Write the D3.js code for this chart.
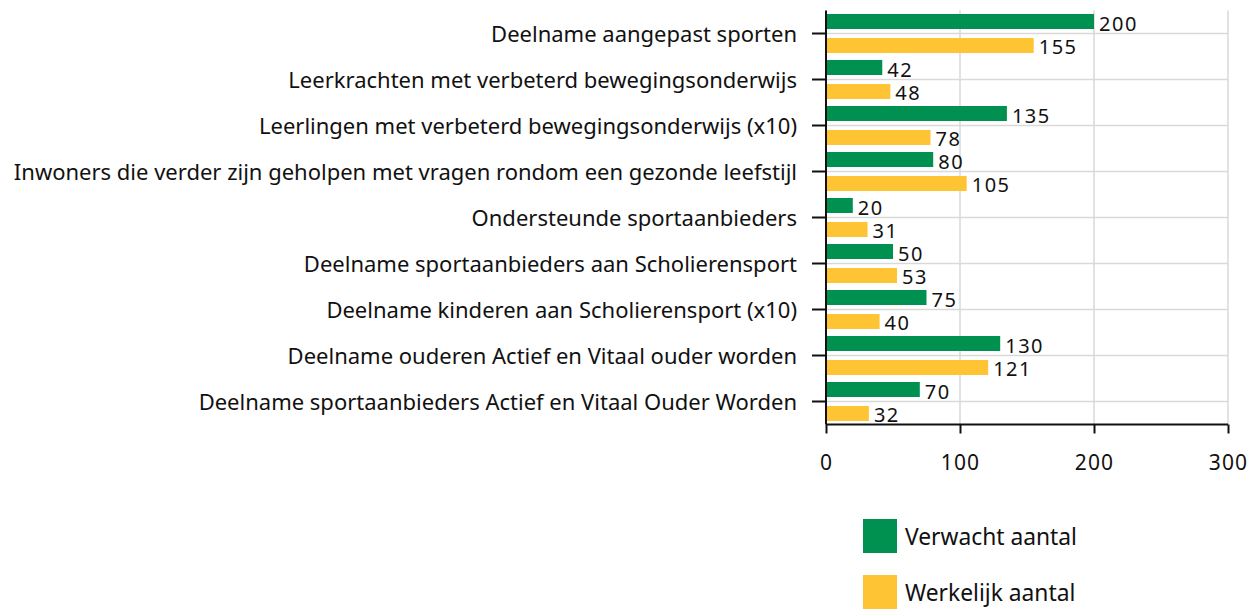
<!DOCTYPE html>
<html><head><meta charset="utf-8">
<script src="https://cdn.jsdelivr.net/npm/d3@7"></script>
<style>body{margin:0;background:#fff}svg{display:block}</style>
</head><body>
<script>
const categories = [
  "Deelname aangepast sporten",
  "Leerkrachten met verbeterd bewegingsonderwijs",
  "Leerlingen met verbeterd bewegingsonderwijs (x10)",
  "Inwoners die verder zijn geholpen met vragen rondom een gezonde leefstijl",
  "Ondersteunde sportaanbieders",
  "Deelname sportaanbieders aan Scholierensport",
  "Deelname kinderen aan Scholierensport (x10)",
  "Deelname ouderen Actief en Vitaal ouder worden",
  "Deelname sportaanbieders Actief en Vitaal Ouder Worden"
];
const verwacht = [200, 42, 135, 80, 20, 50, 75, 130, 70];
const werkelijk = [155, 48, 78, 105, 31, 53, 40, 121, 32];
const seriesNames = ["Verwacht aantal", "Werkelijk aantal"];
const xTicks = [0, 100, 200, 300];

(function () {
const colors = ["#009150", "#FFC433"];
const W = 1257, H = 609;
const mLeft = 826, mRight = 1228, mTop = 10.5, mBottom = 424.5;
const font = "'Noto Sans', sans-serif";

const svg = d3.select("body").append("svg").attr("width", W).attr("height", H);
const x = d3.scaleLinear().domain([0, 300]).range([mLeft, mRight]);
const y = d3.scaleBand().domain(categories).range([mTop, mBottom]).padding(0);
const inner = d3.scaleBand().domain([0, 1]).range([0, y.bandwidth()]).paddingInner(0.375).paddingOuter(0.146);

// grid
const g = svg.append("g");
g.selectAll("line.v").data(xTicks.slice(1)).join("line")
  .attr("x1", d => x(d)).attr("x2", d => x(d)).attr("y1", mTop).attr("y2", mBottom)
  .attr("stroke", "#d9d9d9").attr("stroke-width", 1.5);
g.selectAll("line.h").data(categories).join("line")
  .attr("x1", mLeft).attr("x2", mRight)
  .attr("y1", d => y(d) + y.bandwidth() / 2).attr("y2", d => y(d) + y.bandwidth() / 2)
  .attr("stroke", "#d9d9d9").attr("stroke-width", 1.5);

const series = [verwacht, werkelijk];
series.forEach((vals, si) => {
  svg.append("g").selectAll("rect").data(vals).join("rect")
    .attr("x", x(0)).attr("y", (d, i) => y(categories[i]) + inner(si))
    .attr("width", d => x(d) - x(0)).attr("height", inner.bandwidth())
    .attr("fill", colors[si]);
  svg.append("g").selectAll("text").data(vals).join("text")
    .attr("x", d => x(d) + 5).attr("y", (d, i) => y(categories[i]) + inner(si) + inner.bandwidth() / 2 + 9)
    .attr("font-family", font).attr("font-size", 20).attr("letter-spacing", 1.5)
    .attr("fill", "#111").text(d => d);
});

// y axis
const ya = svg.append("g").attr("transform", `translate(${mLeft},0)`)
  .call(d3.axisLeft(y).tickSize(14).tickPadding(15));
ya.select(".domain").attr("stroke", "#111").attr("stroke-width", 2).attr("d", `M0,${mTop}V${mBottom}`);
ya.selectAll(".tick line").attr("stroke", "#111").attr("stroke-width", 2);
ya.selectAll(".tick text").attr("font-family", font).attr("font-size", 22).attr("fill", "#111").attr("dy", 8.5);

// x axis
const xa = svg.append("g").attr("transform", `translate(0,${mBottom})`)
  .call(d3.axisBottom(x).tickValues(xTicks).tickSize(9));
xa.select(".domain").attr("stroke", "#111").attr("stroke-width", 2).attr("d", `M${mLeft},0H${mRight}`);
xa.selectAll(".tick line").attr("stroke", "#111").attr("stroke-width", 2);
xa.selectAll(".tick text").attr("font-family", font).attr("font-size", 21).attr("letter-spacing", 1.2)
  .attr("fill", "#111").attr("y", 45.5).attr("dy", 0);

// legend
const lg = svg.append("g");
seriesNames.forEach((n, i) => {
  lg.append("rect").attr("x", 863).attr("y", 519 + i * 56).attr("width", 34).attr("height", 34).attr("fill", colors[i]);
  lg.append("text").attr("x", 905).attr("y", 545 + i * 56)
    .attr("font-family", font).attr("font-size", 22.8).attr("fill", "#111").text(n);
});
})();
</script>
</body></html>
